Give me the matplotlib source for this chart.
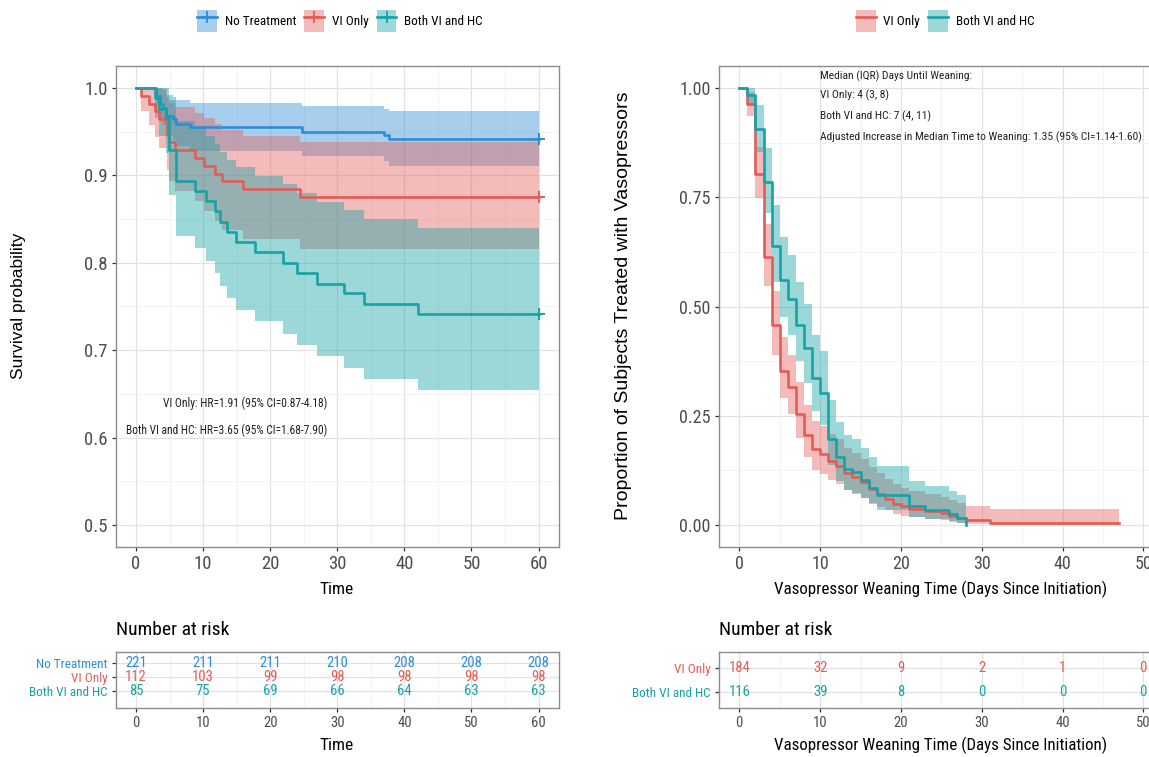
import numpy as np
import matplotlib
matplotlib.use("Agg")
import matplotlib.pyplot as plt
from matplotlib import font_manager
from matplotlib.patches import Patch
from matplotlib.lines import Line2D

# ---------------- data ----------------
groups = ["No Treatment", "VI Only", "Both VI and HC"]

# left: survival (time 0-60)
nt_time = [0, 3, 3.5, 4, 4.5, 5.5, 6, 8, 24.7, 36.9, 37.7, 60]
nt_surv = [1, .991, .982, .977, .968, .964, .959, .955, .950, .946, .941, .941]
nt_lower = [1, .979, .965, .958, .946, .940, .934, .928, .922, .916, .911, .911]
nt_upper = [1, 1, 1, .997, .992, .989, .986, .983, .979, .976, .973, .973]

vi_time = [0, 0.8, 1.9, 2.9, 3.4, 4.6, 4.9, 5.8, 8.8, 10.1, 11.8, 12.8, 16, 24.5, 60]
vi_surv = [1, .991, .982, .973, .964, .946, .938, .929, .920, .911, .902, .893, .884, .875, .875]
vi_lower = [1, .974, .958, .944, .931, .906, .894, .882, .871, .859, .848, .837, .827, .816, .816]
vi_upper = [1, 1, 1, 1, .999, .989, .983, .978, .971, .965, .959, .952, .945, .938, .938]

bo_time = [0, 2.9, 3.4, 4.4, 4.9, 5.9, 8.8, 10.5, 11.7, 12.5, 13.5, 14.9, 17.8, 21.9, 24, 27, 31, 34, 42, 60]
bo_surv = [1, .988, .976, .965, .929, .894, .882, .871, .859, .847, .835, .824, .812, .800, .788, .776, .765, .753, .741, .741]
bo_lower = [1, .966, .945, .926, .877, .831, .817, .802, .788, .774, .760, .746, .733, .719, .706, .693, .680, .667, .654, .654]
bo_upper = [1, 1, 1, 1, .986, .962, .954, .945, .936, .927, .918, .909, .899, .890, .880, .870, .860, .850, .840, .840]

risk_times_L = [0, 10, 20, 30, 40, 50, 60]
nt_risk = [221, 211, 211, 210, 208, 208, 208]
vi_risk = [112, 103, 99, 98, 98, 98, 98]
bo_risk = [85, 75, 69, 66, 64, 63, 63]

hr_lines = ["VI Only: HR=1.91 (95% CI=0.87-4.18)",
            "Both VI and HC: HR=3.65 (95% CI=1.68-7.90)"]

# right: weaning (proportion still on vasopressors)
viw_time = [0, 1, 2, 3, 4, 5, 6, 7, 8, 9, 10, 11, 12, 13, 14, 15, 16, 17, 18, 19, 20, 21,
            23, 25, 26, 27, 28, 31, 47]
viw_surv = [1, .962, .804, .614, .457, .353, .315, .255, .207, .174, .163, .147, .136, .120,
            .109, .098, .082, .071, .060, .049, .043, .038, .033, .027, .022, .016, .011, .0054, .0054]
viw_lower = [1, .935, .749, .548, .390, .291, .255, .200, .156, .127, .118, .104, .094, .081,
             .072, .063, .050, .042, .034, .026, .022, .018, .015, .011, .008, .005, .003, .0008, .0008]
viw_upper = [1, .990, .864, .689, .535, .430, .390, .327, .274, .238, .226, .208, .196, .177,
             .164, .152, .132, .119, .106, .093, .086, .079, .072, .065, .057, .050, .043, .038, .038]

bow_time = [0, 1, 2, 3, 4, 5, 6, 7, 8, 9, 10, 11, 12, 13, 14, 15, 16, 17, 21, 23, 26, 27, 28]
bow_surv = [1, .983, .905, .784, .638, .560, .517, .457, .405, .336, .302, .198, .155, .129,
            .121, .103, .086, .069, .043, .034, .026, .017, 0.0]
bow_lower = [1, .959, .853, .713, .556, .477, .434, .375, .325, .260, .229, .138, .102, .081,
             .074, .061, .048, .035, .018, .013, .009, .004, np.nan]
bow_upper = [1, 1, .960, .863, .732, .658, .617, .557, .505, .434, .398, .286, .237, .207,
             .197, .177, .156, .135, .102, .090, .079, .068, np.nan]

risk_times_R = [0, 10, 20, 30, 40, 50]
viw_risk = [184, 32, 9, 2, 1, 0]
bow_risk = [116, 39, 8, 0, 0, 0]

median_lines = ["Median (IQR) Days Until Weaning:",
                "VI Only: 4 (3, 8)",
                "Both VI and HC: 7 (4, 11)",
                "Adjusted Increase in Median Time to Weaning: 1.35 (95% CI=1.14-1.60)"]

# ---------------- fonts ----------------
names = {f.name for f in font_manager.fontManager.ttflist}
NARROW = None
for cand in ["Liberation Sans Narrow", "Roboto Condensed", "Open Sans Condensed", "Arial Narrow"]:
    if cand in names:
        NARROW = cand
        break
if NARROW:
    NFAM = [NARROW, "DejaVu Sans"]
    K = 1.0
else:
    NFAM = ["Liberation Sans", "DejaVu Sans"]
    K = 0.84
REG = ["Liberation Sans", "DejaVu Sans"]
plt.rcParams["font.family"] = NFAM


def fs(x):
    return x * K


BLUE, RED, TEAL = "#2E8DD6", "#E35D58", "#17A2A6"
ALPHA = 0.42
LW = 1.9
W, H = 1149, 757

fig = plt.figure(figsize=(W / 100, H / 100), dpi=100)


def rect(x0, y0, x1, y1):
    return [x0 / W, 1 - y1 / H, (x1 - x0) / W, (y1 - y0) / H]


axL = fig.add_axes(rect(115.9, 66, 558.7, 547))
axR = fig.add_axes(rect(719.1, 66, 1163.5, 547))
tL = fig.add_axes(rect(115.9, 652, 558.7, 708))
tR = fig.add_axes(rect(719.1, 652, 1163.5, 708))


def style(ax, xmaj, xmin, ymaj, ymin, lab=13.5):
    ax.set_xticks(xmaj)
    ax.set_xticks(xmin, minor=True)
    ax.set_yticks(ymaj)
    ax.set_yticks(ymin, minor=True)
    ax.grid(which="major", color="#E2E2E2", lw=0.9)
    ax.grid(which="minor", color="#F1F1F1", lw=0.6)
    ax.set_axisbelow(True)
    ax.tick_params(which="minor", length=0)
    ax.tick_params(which="major", length=3, width=0.9, color="#333333",
                   labelcolor="#4D4D4D", labelsize=fs(lab), pad=3)
    for s in ax.spines.values():
        s.set_color("#8C8C8C")
        s.set_linewidth(1.0)


# ---------------- left survival ----------------
for t, s, lo, up, c in [(nt_time, nt_surv, nt_lower, nt_upper, BLUE),
                        (vi_time, vi_surv, vi_lower, vi_upper, RED),
                        (bo_time, bo_surv, bo_lower, bo_upper, TEAL)]:
    axL.fill_between(t, lo, up, step="post", color=c, alpha=ALPHA, lw=0, zorder=2)
for t, s, c in [(nt_time, nt_surv, BLUE), (vi_time, vi_surv, RED), (bo_time, bo_surv, TEAL)]:
    axL.step(t, s, where="post", color=c, lw=LW, zorder=3)
    axL.plot([t[-1]], [s[-1]], marker="+", ms=8, mew=1.4, color=c, zorder=4)

axL.set_xlim(-3, 63)
axL.set_ylim(0.475, 1.025)
style(axL, np.arange(0, 61, 10), np.arange(5, 60, 10),
      np.arange(0.5, 1.01, 0.1), np.arange(0.55, 1.0, 0.1))
axL.set_yticklabels(["0.5", "0.6", "0.7", "0.8", "0.9", "1.0"])
axL.text(28.5, 0.639, hr_lines[0], ha="right", va="center", fontsize=fs(8.3), color="#222222")
axL.text(28.5, 0.608, hr_lines[1], ha="right", va="center", fontsize=fs(8.3), color="#222222")

# ---------------- right weaning ----------------
for t, s, lo, up, c in [(viw_time, viw_surv, viw_lower, viw_upper, RED),
                        (bow_time, bow_surv, bow_lower, bow_upper, TEAL)]:
    lo_b = list(lo)
    up_b = list(up)
    if np.isnan(lo_b[-1]):
        lo_b[-1] = lo_b[-2]
        up_b[-1] = up_b[-2]
    axR.fill_between(t, lo_b, up_b, step="post", color=c, alpha=ALPHA, lw=0, zorder=2)
for t, s, c in [(viw_time, viw_surv, RED), (bow_time, bow_surv, TEAL)]:
    axR.step(t, s, where="post", color=c, lw=LW, zorder=3)

axR.set_xlim(-2.5, 52.5)
axR.set_ylim(-0.05, 1.05)
style(axR, np.arange(0, 51, 10), np.arange(5, 50, 10),
      [0, .25, .5, .75, 1.0], [.125, .375, .625, .875], lab=13)
axR.set_yticklabels(["0.00", "0.25", "0.50", "0.75", "1.00"])
for txt, yv in zip(median_lines, [1.027, 0.982, 0.936, 0.888]):
    axR.text(10.0, yv, txt, ha="left", va="center", fontsize=fs(8.25), color="#222222")


# ---------------- risk tables ----------------
def table(ax, times, rows, labels, colors, xlim, ylim):
    n = len(rows)
    ax.set_xlim(*xlim)
    ax.set_ylim(*ylim)
    ys = list(range(n, 0, -1))
    step = times[1] - times[0]
    style(ax, times, [x + step / 2 for x in times[:-1]], ys, [], lab=10.5)
    ax.set_yticklabels(labels)
    for lab, c in zip(ax.get_yticklabels(), colors):
        lab.set_color(c)
        lab.set_fontsize(fs(9.5))
    for r, y, c in zip(rows, ys, colors):
        for x, v in zip(times, r):
            ax.text(x, y, str(v), ha="center", va="center", color=c, fontsize=fs(10.5), zorder=3)


table(tL, risk_times_L, [nt_risk, vi_risk, bo_risk], groups, [BLUE, RED, TEAL],
      (-3, 63), (-0.214, 3.786))
table(tR, risk_times_R, [viw_risk, bow_risk], groups[1:], [RED, TEAL],
      (-2.5, 52.5), (0.3, 2.7))

# ---------------- titles / labels ----------------
fig.text(116 / W, 1 - 630 / H, "Number at risk", ha="left", va="center", fontsize=fs(14))
fig.text(719 / W, 1 - 630 / H, "Number at risk", ha="left", va="center", fontsize=fs(14))
fig.text(337 / W, 1 - 589 / H, "Time", ha="center", va="center", fontsize=fs(12.5))
fig.text(941 / W, 1 - 589 / H, "Vasopressor Weaning Time (Days Since Initiation)",
         ha="center", va="center", fontsize=fs(12.2))
fig.text(337 / W, 1 - 745 / H, "Time", ha="center", va="center", fontsize=fs(12.5))
fig.text(941 / W, 1 - 745 / H, "Vasopressor Weaning Time (Days Since Initiation)",
         ha="center", va="center", fontsize=fs(12.2))
fig.text(19 / W, 1 - 306 / H, "Survival probability", rotation=90, ha="center",
         va="center", fontsize=12.5, family=REG)
fig.text(623 / W, 1 - 306 / H, "Proportion of Subjects Treated with Vasopressors",
         rotation=90, ha="center", va="center", fontsize=14, family=REG)


# ---------------- legends ----------------
def handle(c, plus):
    return (Patch(facecolor=c, alpha=ALPHA, lw=0),
            Line2D([], [], color=c, lw=LW, marker="+" if plus else None, ms=9, mew=1.3))


fig.legend([handle(BLUE, True), handle(RED, True), handle(TEAL, True)], groups,
           loc="center", bbox_to_anchor=(340 / W, 1 - 21 / H), ncol=3, frameon=False,
           fontsize=fs(9.5), handlelength=1.5, handleheight=2.3, handletextpad=0.6,
           columnspacing=0.6, borderpad=0)
fig.legend([handle(RED, False), handle(TEAL, False)], groups[1:],
           loc="center", bbox_to_anchor=(945 / W, 1 - 21 / H), ncol=2, frameon=False,
           fontsize=fs(9.5), handlelength=1.5, handleheight=2.3, handletextpad=0.6,
           columnspacing=0.6, borderpad=0)

fig.savefig("out.png", dpi=100)
